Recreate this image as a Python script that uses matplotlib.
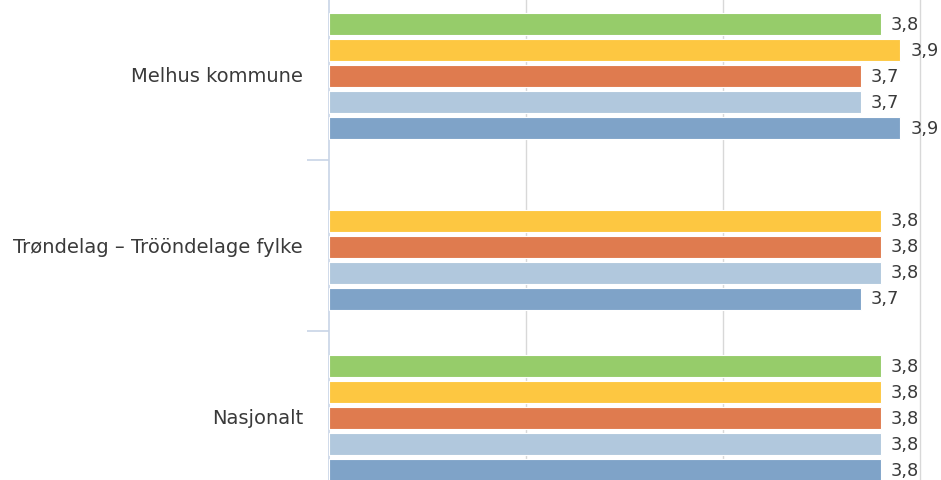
import matplotlib
matplotlib.use("Agg")
import matplotlib.pyplot as plt

# data (comma decimals in the labels)
groups = ["Melhus kommune", "Trøndelag \u2013 Trööndelage fylke", "Nasjonalt"]
series_colors = ["#96cc6a", "#fdc741", "#df7b4f", "#b1c8dd", "#7fa3c8"]
melhus = [3.8, 3.9, 3.7, 3.7, 3.9]
trondelag = [None, 3.8, 3.8, 3.8, 3.7]
nasjonalt = [3.8, 3.8, 3.8, 3.8, 3.8]
values = [melhus, trondelag, nasjonalt]

W, H = 941, 481
fig = plt.figure(figsize=(W / 100, H / 100), dpi=100)
ax = fig.add_axes([329 / W, 0, 1 - 329 / W, 1])

slot = 26 / 171
bar_h = 22 / 171
for gi, vals in enumerate(values):
    for k, v in enumerate(vals):
        if v is None:
            continue
        y = gi + (k - 2) * slot + 1 / 171
        ax.barh(y, v - 1, left=1, height=bar_h, color=series_colors[k],
                edgecolor="white", linewidth=0.8, zorder=3)
        ax.text(v + 0.05, y, f"{v:.1f}".replace(".", ","), va="center",
                ha="left", fontsize=12.8, color="#3a3a3a", zorder=4)

ax.set_xlim(1, 1 + (W - 329) / 197)
ax.set_ylim((H - 75.5) / 171, -75.5 / 171)
ax.set_xticks([2, 3, 4])
ax.grid(axis="x", color="#d8d8d8", linewidth=1, zorder=0)
ax.tick_params(axis="x", length=0, labelbottom=False)

ax.set_yticks([0.5, 1.5])
ax.set_yticklabels([])
ax.tick_params(axis="y", length=16, color="#c8d4e6", width=1.2)
for gi, name in enumerate(groups):
    ax.text(1 - 26 / 197, gi + 1 / 171, name, ha="right", va="center",
            fontsize=14, color="#3a3a3a")

for s in ["top", "right", "bottom"]:
    ax.spines[s].set_visible(False)
ax.spines["left"].set_color("#c8d4e6")
ax.spines["left"].set_linewidth(1.2)

fig.savefig("out.png", dpi=100)
